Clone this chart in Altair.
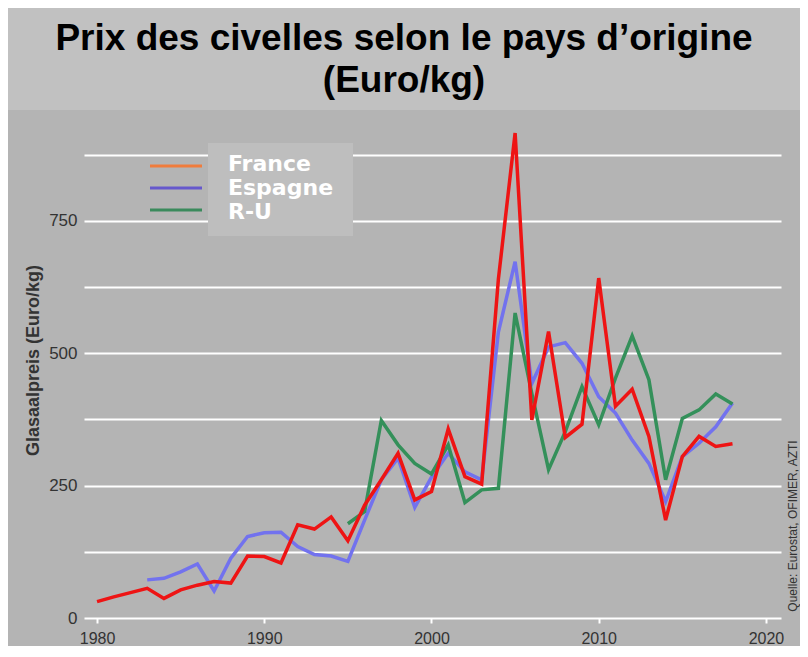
import altair as alt
import pandas as pd

# ---------------- data ----------------
years_france = list(range(1980, 2019))
france = [31, 40, 48, 56, 37, 53, 62, 69, 66, 117,
          116, 104, 176, 168, 191, 146, 213, 261, 311, 223,
          239, 357, 267, 253, 640, 916, 374, 541, 341, 366,
          642, 400, 432, 343, 185, 305, 343, 324, 329]

years_espagne = list(range(1983, 2019))
espagne = [72, 75, 87, 102, 51, 113, 154, 161, 162, 135,
           120, 117, 107, 185, 261, 302, 209, 266, 311, 276,
           261, 540, 673, 443, 512, 520, 481, 418, 387, 336,
           292, 220, 305, 330, 361, 406]

years_ru = list(range(1995, 2019))
ru = [178, 201, 373, 327, 292, 272, 327, 218, 242, 245,
      576, 424, 280, 352, 437, 365, 453, 533, 450, 261,
      377, 393, 423, 404]

series_names = ["France", "Espagne", "R-U"]
line_colors = ["#ee1414", "#7272ee", "#34905a"]
legend_colors = ["#f07c3c", "#6658cc", "#3a8a5c"]
draw_order = ["Espagne", "R-U", "France"]

title_lines = ["Prix des civelles selon le pays d\u2019origine", "(Euro/kg)"]
y_title = "Glasaalpreis (Euro/kg)"
source_text = ["Quelle: Eurostat, OFIMER, AZTI"]
x_ticks = [1980, 1990, 2000, 2010, 2020]
y_grid = [0, 125, 250, 375, 500, 625, 750, 875]

rows = []
for yrs, vals, name in [(years_france, france, "France"),
                        (years_espagne, espagne, "Espagne"),
                        (years_ru, ru, "R-U")]:
    for y, v in zip(yrs, vals):
        rows.append({"year": y, "value": v, "pays": name})
df = pd.DataFrame(rows)
leg_df = pd.DataFrame({"label": series_names})
one = pd.DataFrame({"k": [0]})

# ---------------- layout ----------------
W, H = 697, 503
X_DOMAIN = [1979.22, 2020.9]
Y_DOMAIN = [0, 950]

x_enc = alt.X(
    "year:Q",
    scale=alt.Scale(domain=X_DOMAIN, nice=False, zero=False),
    axis=alt.Axis(values=x_ticks, format="d", grid=False, domain=False,
                  tickColor="white", tickSize=5, tickWidth=2,
                  labelPadding=7, labelFont="Liberation Sans",
                  labelFontSize=16, labelColor="#333333"),
    title=None,
)
y_enc = alt.Y(
    "value:Q",
    scale=alt.Scale(domain=Y_DOMAIN, nice=False, zero=True),
    axis=alt.Axis(values=y_grid,
                  labelExpr="datum.value % 250 == 0 ? datum.label : ''",
                  grid=True, gridColor="white", gridWidth=2, gridOpacity=1,
                  domain=False, ticks=False, labelPadding=7,
                  labelFont="Liberation Sans", labelFontSize=17,
                  labelColor="#333333",
                  titleFont="Liberation Sans", titleFontSize=18,
                  titleFontWeight="bold", titleColor="#333333",
                  titleX=-51, titleY=245, titleBaseline="middle"),
    title=y_title,
)

color_of = dict(zip(series_names, line_colors))


def line_layer(name):
    return (
        alt.Chart(df)
        .transform_filter(alt.datum.pays == name)
        .mark_line(strokeWidth=3.5, color=color_of[name])
        .encode(x=x_enc, y=y_enc)
    )


band = alt.Chart(one).mark_rect(color="#c1c1c1").encode(
    x=alt.value(-76), x2=alt.value(716), y=alt.value(-107), y2=alt.value(-5)
)

lines = alt.layer(band, *[line_layer(n) for n in draw_order])

box = alt.Chart(one).mark_rect(color="#bebebe").encode(
    x=alt.value(124), x2=alt.value(269), y=alt.value(28), y2=alt.value(121)
)

leg_rules = alt.Chart(leg_df).mark_rule(strokeWidth=3).encode(
    x=alt.value(66), x2=alt.value(118),
    y=alt.Y("label:N", scale=alt.Scale(type="point", domain=series_names,
                                       range=[51, 95], padding=0), axis=None),
    stroke=alt.Stroke("label:N", scale=alt.Scale(domain=series_names,
                                                 range=legend_colors),
                      legend=None),
)

leg_text = alt.Chart(leg_df).mark_text(
    font="DejaVu Sans", fontWeight="bold", fontSize=22, color="white",
    align="left", baseline="alphabetic"
).encode(
    x=alt.value(144),
    y=alt.Y("label:N", scale=alt.Scale(type="point", domain=series_names,
                                       range=[56, 104], padding=0), axis=None),
    text="label:N",
)

title_text = alt.Chart(one).mark_text(
    font="Liberation Sans", fontWeight="bold", fontSize=37, color="black",
    align="center", baseline="alphabetic", lineHeight=42
).encode(x=alt.value(320), y=alt.value(-65), text=alt.value(title_lines))

src = alt.Chart(one).mark_text(
    font="Liberation Sans", fontSize=12, color="#333333", angle=270,
    align="center", baseline="middle"
).encode(x=alt.value(709), y=alt.value(411), text=alt.value(source_text[0]))

chart = (
    alt.layer(lines, box, leg_rules, leg_text, title_text, src)
    .resolve_scale(y="independent")
    .properties(
        width=W, height=H,
        padding={"left": 76, "top": 107, "right": 19, "bottom": 28},
        autosize=alt.AutoSizeParams(type="none"),
        background="#b4b4b4",
    )
    .configure_view(stroke=None)
)

chart.save("out.html", embed_options={"renderer": "svg", "actions": False})
